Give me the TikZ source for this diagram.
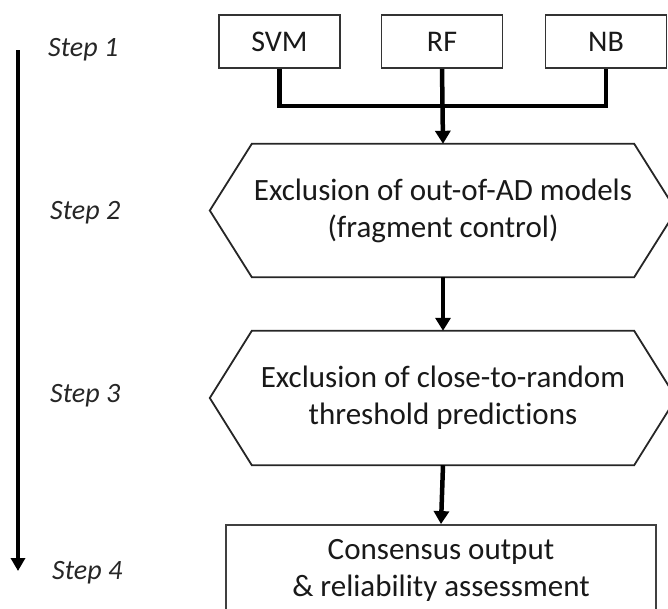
\documentclass[tikz,border=0pt]{standalone}
\usepackage{fontspec}
\setmainfont{Carlito}[Ligatures=NoCommon]
\usetikzlibrary{arrows.meta}
\tikzset{
  model/.style={draw=black!80, line width=1.8pt, minimum width=121pt, minimum height=53pt, inner sep=0pt,
    font=\fontsize{30}{37}\selectfont, text=black!90},
  hexnode/.style={minimum width=466pt, inner sep=0pt, align=center,
    font=\fontsize{31}{37}\selectfont, text=black!90},
  hexline/.style={draw=black!85, line width=1.8pt, line join=miter},
  outbox/.style={draw=black!75, line width=1.8pt, minimum width=430pt, minimum height=90pt, inner sep=0pt,
    align=center, font=\fontsize{31}{37}\selectfont, text=black!90},
  steplabel/.style={anchor=west, inner sep=0pt, font=\fontsize{28}{30}\selectfont\itshape, text=black!85},
  flow/.style={line width=4.5pt, draw=black},
  flowarrow/.style={flow, -{Triangle[length=13pt,width=15pt]}},
}
\begin{document}
\begin{tikzpicture}[x=1pt,y=-1pt]
\useasboundingbox (0,0) rectangle (668,608);

% classifiers
\node[model] (svm) at (279.5,41.5) {SVM};
\node[model] (rf)  at (442,41.5) {RF};
\node[model] (nb)  at (606,41.5) {NB};

% filtering stages
\node[hexnode, minimum height=133pt] (h1) at (443,210.5) {Exclusion of out-of-AD models\\(fragment control)};
\draw[hexline] ([xshift=42pt]h1.north west) -- ([xshift=-42pt]h1.north east) -- (h1.east)
  -- ([xshift=-42pt]h1.south east) -- ([xshift=42pt]h1.south west) -- (h1.west) -- cycle;

\node[hexnode, minimum height=134pt] (h2) at (443,398) {Exclusion of close-to-random\\threshold predictions};
\draw[hexline] ([xshift=42pt]h2.north west) -- ([xshift=-42pt]h2.north east) -- (h2.east)
  -- ([xshift=-42pt]h2.south east) -- ([xshift=42pt]h2.south west) -- (h2.west) -- cycle;

% final output
\node[outbox] (out) at (441,570) {Consensus output\\\& reliability assessment};

% connectors
\coordinate (join) at (443,106);
\draw[flow, line join=miter] (svm.south) -- (svm.south |- join) -- (nb.south |- join) -- (nb.south);
\draw[flowarrow] (rf.south) -- (h1.north);
\draw[flowarrow] (h1.south) -- (h2.north);
\draw[flowarrow] (h2.south) -- (out.north);

% step axis
\coordinate (axtop) at (18,50);
\coordinate (axbot) at (18,571);
\draw[flow, line width=4pt, -{Triangle[length=13pt,width=14pt]}] (axtop) -- (axbot);
\node[steplabel] (s1) at (48,50) {Step 1};
\node[steplabel] (s2) at (50,213) {Step 2};
\node[steplabel] (s3) at (50,396) {Step 3};
\node[steplabel] (s4) at (52,573) {Step 4};
\end{tikzpicture}
\end{document}
